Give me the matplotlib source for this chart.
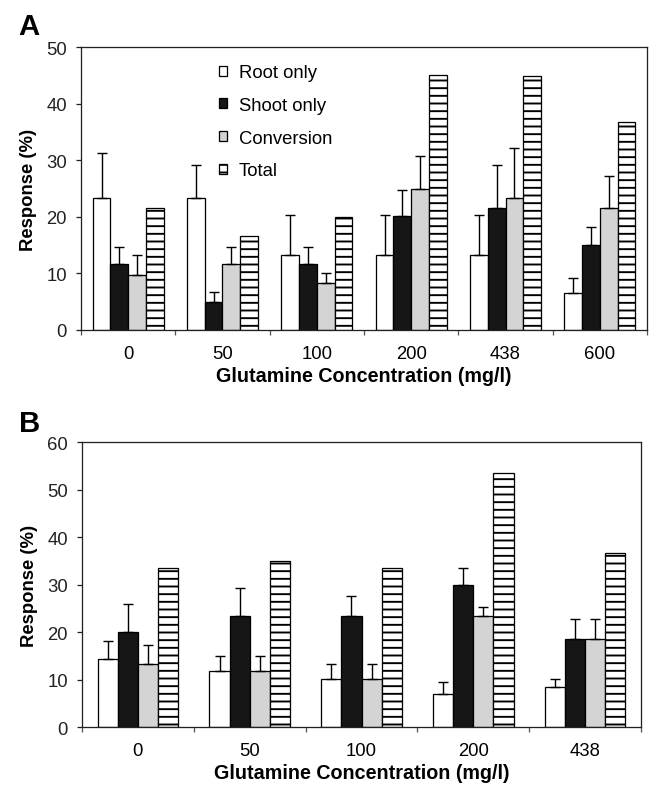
import matplotlib
matplotlib.use("Agg")
import matplotlib.pyplot as plt
from matplotlib.patches import Patch
import numpy as np

# ---------------- data ----------------
series = ["Root only", "Shoot only", "Conversion", "Total"]

a_conc = ["0", "50", "100", "200", "438", "600"]
a_root = [23.3, 23.3, 13.3, 13.3, 13.3, 6.5]
a_root_err = [8.0, 5.8, 7.0, 7.1, 7.0, 2.75]
a_shoot = [11.7, 5.0, 11.7, 20.1, 21.5, 15.0]
a_shoot_err = [3.0, 1.8, 3.0, 4.7, 7.6, 3.3]
a_conv = [9.8, 11.7, 8.3, 25.0, 23.4, 21.5]
a_conv_err = [3.5, 3.0, 1.7, 5.8, 8.7, 5.8]
a_total = [21.5, 16.6, 19.9, 45.1, 44.9, 36.7]

b_conc = ["0", "50", "100", "200", "438"]
b_root = [14.3, 11.7, 10.1, 6.9, 8.5]
b_root_err = [3.9, 3.2, 3.2, 2.6, 1.7]
b_shoot = [20.1, 23.4, 23.4, 30.0, 18.6]
b_shoot_err = [5.9, 5.8, 4.2, 3.5, 4.1]
b_conv = [13.3, 11.7, 10.1, 23.4, 18.6]
b_conv_err = [3.9, 3.2, 3.2, 1.9, 4.1]
b_total = [33.5, 35.0, 33.5, 53.5, 36.7]

# ---------------- style ----------------
plt.rcParams["font.family"] = ["Liberation Sans", "DejaVu Sans"]
plt.rcParams["hatch.linewidth"] = 1.5
plt.rcParams["hatch.color"] = "black"

DPI = 92
W, H = 650, 789
fig = plt.figure(figsize=(W / DPI, H / DPI), dpi=DPI)

face = ["white", "#161616", "#d3d4d3", "white"]
hatches = [None, None, None, "--"]
FS = 14.5


def panel(ax, conc, vals, errs, ymax, bw):
    n = len(conc)
    x = np.arange(n)
    for k in range(4):
        pos = x + (k - 1.5) * bw
        ax.bar(pos, vals[k], width=bw, color=face[k], edgecolor="black",
               linewidth=1.0, hatch=hatches[k], zorder=2)
        if errs[k] is not None:
            e = np.array(errs[k])
            ax.errorbar(pos, vals[k], yerr=[np.zeros_like(e), e], fmt="none",
                        ecolor="black", elinewidth=1.1, capsize=4.2,
                        capthick=1.1, zorder=3)
    ax.set_xlim(-0.5, n - 0.5)
    ax.set_ylim(0, ymax)
    ax.set_yticks(np.arange(0, ymax + 1, 10))
    ax.set_xticks(np.arange(-0.5, n, 1.0))
    ax.set_xticklabels([])
    ax.set_xticks(x, minor=True)
    ax.set_xticklabels(conc, minor=True)
    ax.tick_params(axis="x", which="major", direction="out", length=4,
                   width=1.0, color="#555555")
    ax.tick_params(axis="x", which="minor", length=0, pad=12, labelsize=FS)
    ax.tick_params(axis="y", direction="out", length=4, width=1.0,
                   pad=7, labelsize=FS, colors="#222222")
    for s in ax.spines.values():
        s.set_linewidth(1.0)
        s.set_color("#222222")
    ax.set_xlabel("Glutamine Concentration (mg/l)", fontsize=15.5,
                  fontweight="bold", labelpad=3)
    ax.set_ylabel("Response (%)", fontsize=14.5, fontweight="bold", labelpad=7)


axA = fig.add_axes([0.1246, 0.5805, 0.8708, 0.3583])
panel(axA, a_conc, [a_root, a_shoot, a_conv, a_total],
      [a_root_err, a_shoot_err, a_conv_err, None], 50, 0.1875)

handles = [Patch(facecolor=face[k], edgecolor="black", linewidth=1.0,
                 hatch=hatches[k]) for k in range(4)]
axA.legend(handles, series, loc="upper left", bbox_to_anchor=(0.243, 0.94),
           frameon=False, fontsize=FS, handlelength=0.45, handleheight=0.45,
           handletextpad=0.65, labelspacing=0.85, borderpad=0, borderaxespad=0)

axB = fig.add_axes([0.1262, 0.0773, 0.8600, 0.3612])
panel(axB, b_conc, [b_root, b_shoot, b_conv, b_total],
      [b_root_err, b_shoot_err, b_conv_err, None], 60, 0.18)

fig.text(18 / W, 1 - 35 / H, "A", fontsize=23, fontweight="bold",
         ha="left", va="baseline")
fig.text(19 / W, 1 - 432 / H, "B", fontsize=23, fontweight="bold",
         ha="left", va="baseline")

fig.savefig("out.png", dpi=DPI)
